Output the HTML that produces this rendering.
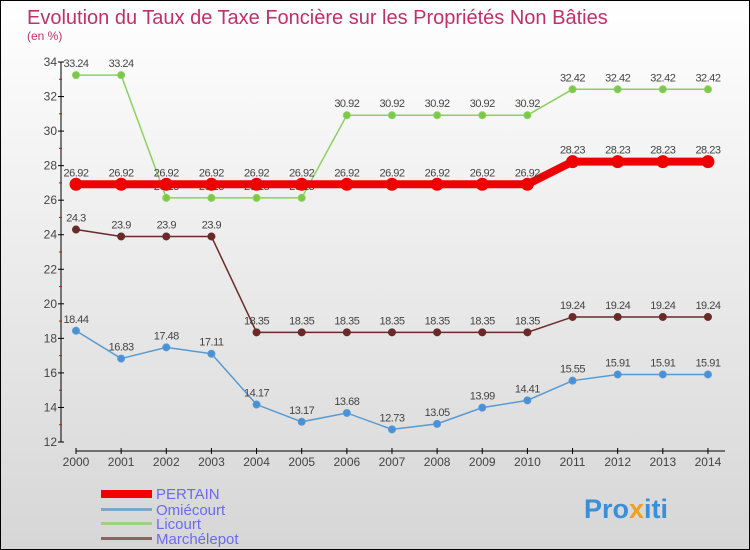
<!DOCTYPE html>
<html><head><meta charset="utf-8"><style>
body{margin:0}
#c{width:748px;height:548px;border:1px solid #000;background:linear-gradient(#fff,#d6d6d6);position:relative;font-family:"Liberation Sans",sans-serif}
</style></head><body>
<div id="c">
<svg id="s" width="748" height="548" style="position:absolute;left:0;top:0">
<text x="26" y="23" font-size="20" fill="#c0306a">Evolution du Taux de Taxe Foncière sur les Propriétés Non Bâties</text>
<text x="26" y="39" font-size="12" fill="#c0306a">(en %)</text>
<g id="axes"></g><g id="series"></g>
<g>
<rect x="100" y="489" width="51" height="8" fill="#e00"/>
<text x="155" y="498" font-size="15" fill="#6b6bef">PERTAIN</text>
<rect x="100" y="507" width="51" height="3" fill="#7aa8c8"/>
<text x="155" y="514" font-size="15" fill="#6b6bef">Omiécourt</text>
<rect x="100" y="521" width="51" height="3" fill="#9ed080"/>
<text x="155" y="528" font-size="15" fill="#6b6bef">Licourt</text>
<rect x="100" y="536" width="51" height="3" fill="#8a6464"/>
<text x="155" y="543" font-size="15" fill="#6b6bef">Marchélepot</text>
</g>
<g>
<text x="583" y="517" font-size="27" font-weight="bold" fill="#3a8fd8">Pro<tspan fill="#f0a020">x</tspan><tspan fill="#3a8fd8">iti</tspan></text>
</g>
</svg>
</div>
<script>
const years=[2000,2001,2002,2003,2004,2005,2006,2007,2008,2009,2010,2011,2012,2013,2014];
const yTicks=[12,14,16,18,20,22,24,26,28,30,32,34];
const pertain=[26.92,26.92,26.92,26.92,26.92,26.92,26.92,26.92,26.92,26.92,26.92,28.23,28.23,28.23,28.23];
const omiecourt=[18.44,16.83,17.48,17.11,14.17,13.17,13.68,12.73,13.05,13.99,14.41,15.55,15.91,15.91,15.91];
const licourt=[33.24,33.24,26.13,26.13,26.13,26.13,30.92,30.92,30.92,30.92,30.92,32.42,32.42,32.42,32.42];
const marchelepot=[24.3,23.9,23.9,23.9,18.35,18.35,18.35,18.35,18.35,18.35,18.35,19.24,19.24,19.24,19.24];
const NS='http://www.w3.org/2000/svg';
const X=i=>75+i*45.14;
const Y=v=>441-(v-12)*(380/22);
function mk(t,a,p){const e=document.createElementNS(NS,t);for(const k in a)e.setAttribute(k,a[k]);p.appendChild(e);return e;}
const ax=document.getElementById('axes');
let l=mk('line',{x1:60,y1:Y(34),x2:60,y2:Y(12),stroke:'#000'},ax);


l=mk('line',{x1:75,y1:450,x2:724,y2:450,stroke:'#000'},ax);


yTicks.forEach((v,i)=>{
 mk('line',{x1:57,x2:63,y1:Y(v),y2:Y(v),stroke:'#000'},ax);
 if(i<yTicks.length-1)mk('line',{x1:58,x2:61,y1:Y(v+1),y2:Y(v+1),stroke:'#e00'},ax);
 const t=mk('text',{x:56,y:Y(v)+4,'font-size':12,fill:'#444','text-anchor':'end'},ax);t.textContent=v;
 
 
});
years.forEach((y,i)=>{
 mk('line',{x1:X(i),x2:X(i),y1:447,y2:453,stroke:'#000'},ax);
 const t=mk('text',{x:X(i),y:465,'font-size':12,fill:'#444','text-anchor':'middle'},ax);t.textContent=y;
 
 
});
const sg=document.getElementById('series');
function draw(data,color,fill,w,r,name){
 const g=mk('g',{},sg);
 
 
 const ln=mk('polyline',{points:data.map((v,i)=>X(i)+','+Y(v)).join(' '),fill:'none',stroke:color,'stroke-width':w},g);
 
 
 data.forEach((v,i)=>{
  const c=mk('circle',{cx:X(i),cy:Y(v),r:r,fill:fill,stroke:color,'stroke-width':1},g);
  
  
  const t=mk('text',{x:X(i),y:Y(v)-8,'font-size':11,fill:'#444','text-anchor':'middle','letter-spacing':'-0.5'},g);
  t.textContent=v;
  
  
 });
}
draw(omiecourt,'#5a9ad0','#4a90d8',1.5,3.5,'omiecourt');
draw(licourt,'#8ed060','#7cc848',1.5,3.5,'licourt');
draw(marchelepot,'#6a2a2a','#6a2a2a',1.5,3.5,'marchelepot');
draw(pertain,'#ee0000','#ee0000',8,6,'pertain');
</script>
</body></html>
